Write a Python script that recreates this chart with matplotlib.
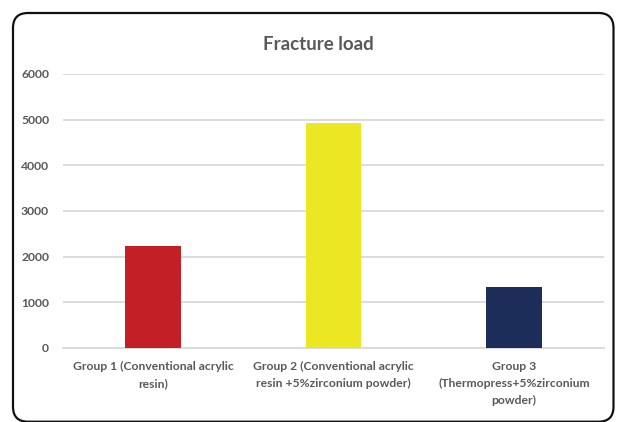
import matplotlib
matplotlib.use("Agg")
import matplotlib.pyplot as plt
from matplotlib.patches import FancyBboxPatch

categories = ["Group 1 (Conventional acrylic\nresin)",
              "Group 2 (Conventional acrylic\nresin +5%zirconium powder)",
              "Group 3\n(Thermopress+5%zirconium\npowder)"]
values = [2240, 4930, 1340]
colors = ["#C21F26", "#EBE823", "#1C2D5A"]
yticks = [0, 1000, 2000, 3000, 4000, 5000, 6000]

W, H = 617, 422
fig = plt.figure(figsize=(W/100, H/100), dpi=100)
fig.patch.set_facecolor("white")
font = ["Lato", "DejaVu Sans"]
grey = "#595959"

# rounded frame (inches)
frame = FancyBboxPatch((0.13, 0.003), 6.005, 4.087,
                       boxstyle="round,pad=0,rounding_size=0.15",
                       transform=fig.dpi_scale_trans, facecolor="none",
                       edgecolor="#111111", linewidth=1.6, zorder=0)
fig.patches.append(frame)

ax = fig.add_axes([63/W, 1-348/H, (604-63)/W, (348-74)/H])
ax.set_zorder(2)
ax.set_facecolor("none")
x = range(len(categories))
ax.bar(x, values, width=0.31, color=colors, zorder=3)
ax.set_xlim(-0.5, 2.5)
ax.set_ylim(0, 6000)
ax.set_yticks(yticks)
ax.set_yticklabels([str(v) for v in yticks], fontfamily=font,
                   fontweight="bold", fontsize=8.7, color=grey)
ax.set_xticks(list(x))
ax.set_xticklabels(categories, fontfamily=font, fontweight="bold",
                   fontsize=8.7, color=grey, linespacing=1.65, va="top")
ax.tick_params(axis="both", length=0)
ax.tick_params(axis="y", pad=10)
ax.tick_params(axis="x", pad=9.5)
ax.grid(axis="y", color="#D9D9D9", linewidth=1.3, zorder=0)
ax.set_axisbelow(True)
for s in ["top", "right", "left"]:
    ax.spines[s].set_visible(False)
ax.spines["bottom"].set_color("#D9D9D9")
ax.spines["bottom"].set_linewidth(1.3)

fig.text(318/W, 1-44/H, "Fracture load", ha="center", va="center",
         fontfamily=font, fontweight="bold", fontsize=13.5, color=grey)

fig.savefig("out.png", dpi=100, facecolor="white")
